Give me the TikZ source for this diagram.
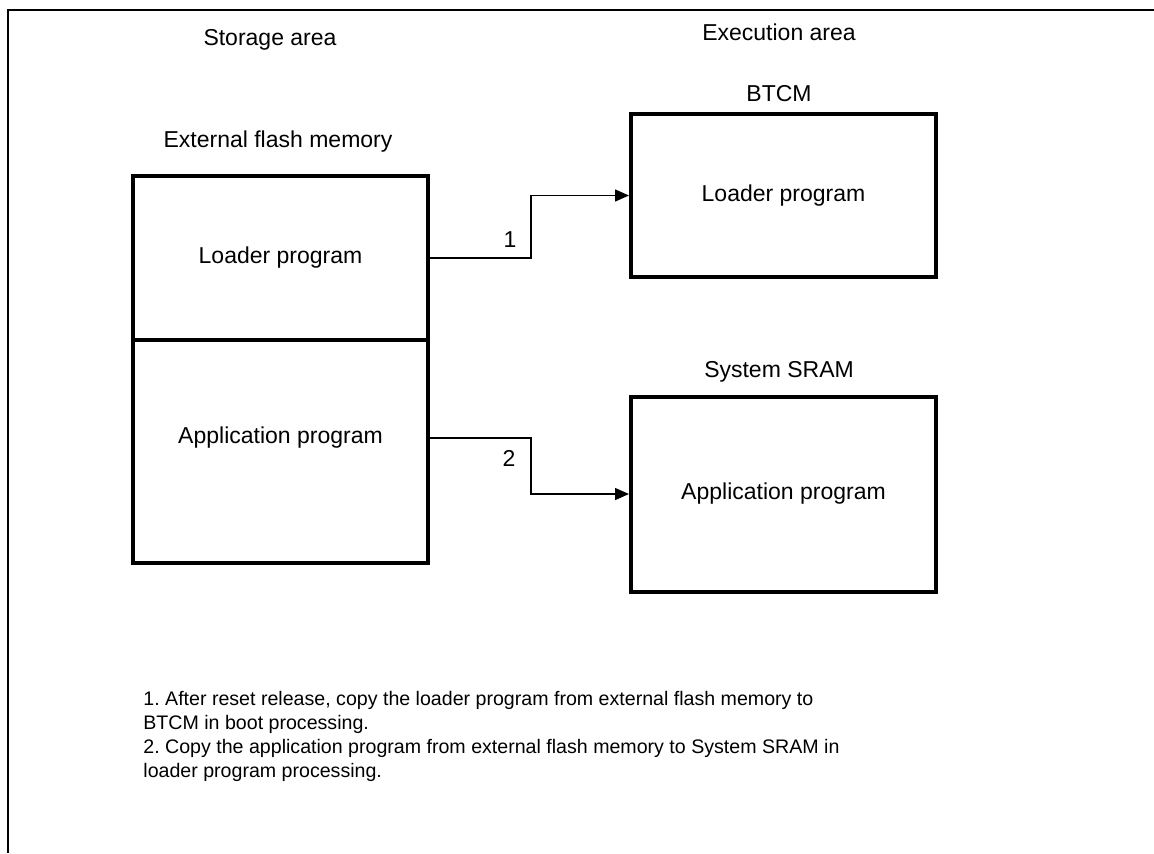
\documentclass[tikz,border=0pt]{standalone}
\usepackage{fontspec}
\setmainfont{Liberation Sans}
\usetikzlibrary{arrows.meta}

\tikzset{
  membox/.style={draw, line width=2pt, inner sep=0pt},
  flow/.style={line width=0.75pt, -{Triangle[length=7pt,width=6pt]}},
}

\begin{document}
\frenchspacing
\begin{tikzpicture}[x=0.5pt, y=-0.5pt, font=\fontsize{11.5}{14}\selectfont]
   \useasboundingbox (0,0) rectangle (1154,853);
   \draw[line width=1pt] (8,853) -- (8,9.5) -- (1154,9.5);

   \node (stor) at (270,40) {Storage area};
   \node (exec) at (779,32) {Execution area};

   % storage side
   \node (extlbl) at (278,142) {External flash memory};
   \node[membox, minimum width=147.5pt, minimum height=82pt] (fl) at (280.5,258) {Loader program};
   \node[membox, minimum width=147.5pt, minimum height=111.5pt] (fa) at (280.5,451.5) {};
   \node (fatxt) at (280.5,438) {Application program};

   % execution side
   \node (btcmlbl) at (779,94) {BTCM};
   \node[membox, minimum width=152.5pt, minimum height=81.5pt] (btcm) at (783.5,195.5) {Loader program};
   \node (sramlbl) at (779,372) {System SRAM};
   \node[membox, minimum width=152.5pt, minimum height=97.5pt] (sram) at (783.5,494) {Application program};

   \draw[flow] (fl.east) -- ++(101,0) |- (btcm.west);
   \node (n1) at (510,240) {1};
   \draw[flow] (fa.east |- fatxt) -- ++(101,0) |- (sram.west);
   \node (n2) at (509,458) {2};

   \node[anchor=base west, align=left, inner sep=0pt, font=\fontsize{9.8}{11.85}\selectfont] (notes) at (143,777)
     {1. After reset release, copy the loader program from external flash memory to\\
      BTCM in boot processing.\\
      2. Copy the application program from external flash memory to System SRAM in\\
      loader program processing.};
\end{tikzpicture}
\end{document}
